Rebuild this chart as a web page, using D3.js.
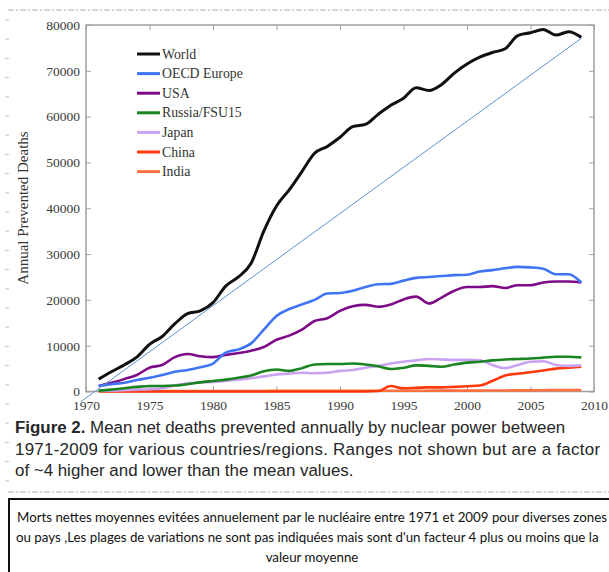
<!DOCTYPE html>
<html><head><meta charset="utf-8">
<script src="https://cdn.jsdelivr.net/npm/d3@7/dist/d3.min.js"></script>
<style>body{margin:0;background:#fff}svg{display:block}</style>
</head><body>
<svg id="c" width="609" height="572"></svg>
<script>
const years = d3.range(1971, 2010);
const world = [2700,4300,5800,7500,10300,12000,14800,17000,17600,19400,23000,25000,28000,35000,40500,44000,48000,52000,53500,55500,57800,58300,60500,62500,64000,66300,65700,67000,69500,71500,73000,74000,74800,77700,78300,79000,77800,78500,77300];
const oecdEurope = [1200,1600,1900,2500,3000,3600,4300,4700,5300,6100,8500,9200,10500,13500,16500,18000,19000,20000,21400,21500,22000,22800,23400,23500,24200,24800,25000,25200,25400,25500,26200,26500,26900,27200,27100,26800,25600,25600,23800];
const usa = [1200,1900,2700,3600,5200,5800,7500,8200,7700,7500,8000,8400,8900,9700,11300,12200,13500,15400,16000,17600,18600,18900,18500,19000,20100,20700,19200,20500,22000,22800,22800,23000,22600,23200,23200,23800,24000,24000,23800];
const russia = [200,400,700,1000,1200,1200,1300,1600,2000,2300,2600,3000,3500,4400,4800,4500,5100,5900,6000,6000,6100,5900,5500,4900,5200,5700,5600,5400,5900,6300,6500,6800,7000,7100,7200,7400,7600,7600,7450];
const japan = [100,200,300,400,500,700,1300,1800,2000,2100,2300,2600,2900,3300,3700,3900,4100,4000,4100,4500,4700,5200,5600,6100,6500,6800,7100,7000,6900,6900,6800,5800,5100,5800,6500,6600,5800,5600,5700];
const china = [0,0,0,0,0,0,0,0,0,0,0,0,0,0,0,0,0,0,0,0,0,0,100,1200,700,800,900,900,1000,1150,1300,2300,3500,3900,4200,4600,5000,5200,5400];
const india = [100,100,100,100,100,100,100,100,100,100,120,120,120,120,150,150,150,150,150,150,150,150,150,150,180,180,180,200,200,200,200,220,220,250,250,280,300,300,320];
const seriesNames = ["World","OECD Europe","USA","Russia/FSU15","Japan","China","India"];
const seriesColors = ["#111111","#3f74f4","#7d0a86","#1a8420","#c9a2f2","#ff3a0a","#ff7040"];
const seriesValues = [world,oecdEurope,usa,russia,japan,china,india];
const trendYears = [1969.6, 2009];
const trendValues = [-2200, 77100];
const xTicks = [1970,1975,1980,1985,1990,1995,2000,2005,2010];
const yTicks = [0,10000,20000,30000,40000,50000,60000,70000,80000];
const yLabel = "Annual Prevented Deaths";
const captionBold = "Figure 2.";
const captionLines = [" Mean net deaths prevented annually by nuclear power between","1971-2009 for various countries/regions. Ranges not shown but are a factor","of ~4 higher and lower than the mean values."];
const frenchLines = ["Morts nettes moyennes evitées annuelement par le nucléaire entre 1971 et 2009 pour diverses zones","ou pays ,Les  plages de variations ne sont pas indiquées mais sont d'un facteur 4  plus ou moins que la","valeur moyenne"];

const svg = d3.select("#c");
const serif = "'Liberation Serif','Times New Roman',serif";
const sans = "'Liberation Sans',Arial,sans-serif";

// page artifacts: dashed rules and margin marks
[10, 492].forEach(yy => svg.append("line").attr("x1",8).attr("x2",609).attr("y1",yy).attr("y2",yy)
  .attr("stroke","#9a9a9a").attr("stroke-width",0.8).attr("stroke-dasharray","6,2,2,2"));
d3.range(20, 492, 19.2).forEach(yy => svg.append("line").attr("x1",5).attr("x2",9).attr("y1",yy).attr("y2",yy)
  .attr("stroke","#bcc8d8").attr("stroke-width",1));

const x = d3.scaleLinear().domain([1970,2010]).range([86,594]);
const y = d3.scaleLinear().domain([0,80000]).range([391.5,25]);

const axisColor = "#a0a0a0";
function styleAxis(g, showText){
  g.select(".domain").remove();
  g.selectAll(".tick line").attr("stroke",axisColor).attr("stroke-width",1);
  g.selectAll("text").attr("fill","#3a3a3a").style("font-family",serif).style("font-size","13.5px");
  if(!showText) g.selectAll("text").remove();
}
svg.append("g").attr("transform","translate(86,0)")
  .call(d3.axisLeft(y).tickValues(yTicks).tickFormat(d3.format("d")).tickSize(-5).tickPadding(6))
  .call(g=>styleAxis(g,true));
svg.append("g").attr("transform","translate(594,0)")
  .call(d3.axisRight(y).tickValues(yTicks).tickSize(-5))
  .call(g=>styleAxis(g,false));
svg.append("g").attr("transform","translate(0,391.5)")
  .call(d3.axisBottom(x).tickValues(xTicks).tickFormat(d3.format("d")).tickSize(-5).tickPadding(9))
  .call(g=>styleAxis(g,true));
svg.append("g").attr("transform","translate(0,25)")
  .call(d3.axisTop(x).tickValues(xTicks).tickSize(-5))
  .call(g=>styleAxis(g,false));
svg.append("rect").attr("x",86).attr("y",25).attr("width",508).attr("height",366.5)
  .attr("fill","none").attr("stroke",axisColor).attr("stroke-width",1.5);

svg.append("text").attr("transform","translate(28,208) rotate(-90)").attr("text-anchor","middle")
  .style("font-family",serif).style("font-size","15px").attr("fill","#333").text(yLabel);

const line = d3.line().x((d,i)=>x(years[i])).y(d=>y(d)).curve(d3.curveMonotoneX);
for(let k=seriesValues.length-1;k>=0;k--){
  svg.append("path").datum(seriesValues[k]).attr("d",line).attr("fill","none")
    .attr("stroke",seriesColors[k]).attr("stroke-width",k===0?3:2.6).attr("stroke-linejoin","round");
}
svg.append("line").attr("x1",x(trendYears[0])).attr("y1",y(trendValues[0]))
  .attr("x2",x(trendYears[1])).attr("y2",y(trendValues[1]))
  .attr("stroke","#5d8fcf").attr("stroke-width",1);

// legend
const lg = svg.append("g");
seriesNames.forEach((n,i)=>{
  const yy = 54 + i*19.6;
  lg.append("line").attr("x1",137).attr("x2",160).attr("y1",yy).attr("y2",yy)
    .attr("stroke",seriesColors[i]).attr("stroke-width",3);
  lg.append("text").attr("x",162).attr("y",yy+4.5).style("font-family",serif).style("font-size","13.8px")
    .attr("fill","#333").text(n);
});

// caption
const cap = svg.append("g").style("font-family",sans).style("font-size","16.9px").attr("fill","#262626");
const t0 = cap.append("text").attr("x",15).attr("y",433);
t0.append("tspan").style("font-weight","bold").text(captionBold);
t0.append("tspan").text(captionLines[0]);
cap.append("text").attr("x",15).attr("y",454.5).attr("textLength",585).attr("lengthAdjust","spacing").text(captionLines[1]);
cap.append("text").attr("x",15).attr("y",476).text(captionLines[2]);

// french box
svg.append("rect").attr("x",9).attr("y",499).attr("width",620).attr("height",90)
  .attr("fill","#fff").attr("stroke","#111").attr("stroke-width",2);
const fr = svg.append("g").style("font-family","Lato,'Open Sans',sans-serif").style("font-size","13.3px").attr("fill","#111");
fr.append("text").attr("x",17).attr("y",522).text(frenchLines[0]);
fr.append("text").attr("x",16).attr("y",542).text(frenchLines[1]);
fr.append("text").attr("x",312).attr("y",562).attr("text-anchor","middle").text(frenchLines[2]);
</script>
</body></html>
